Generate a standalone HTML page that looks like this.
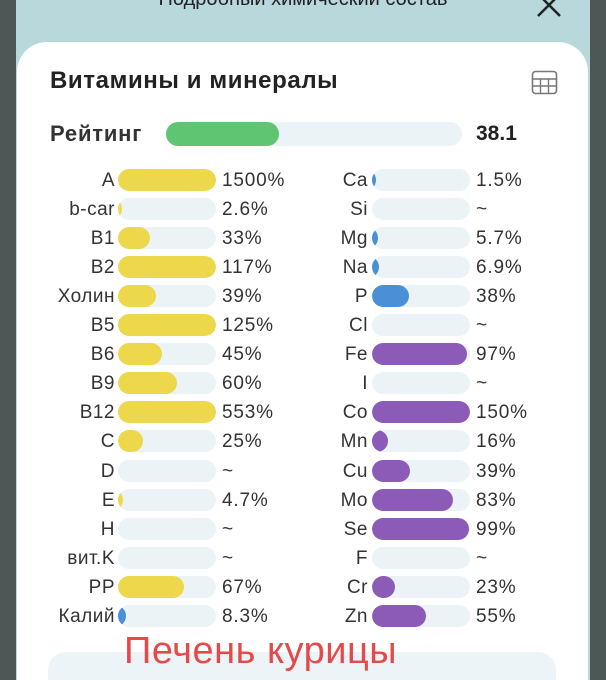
<!DOCTYPE html>
<html><head><meta charset="utf-8"><style>
html,body{margin:0;width:606px;height:680px;overflow:hidden;}
body{background:#4d5856;position:relative;font-family:"Liberation Sans","DejaVu Sans",sans-serif;}
.teal{position:absolute;left:16px;top:0;width:574px;height:680px;background:#b8d8dc;}
.ttl{position:absolute;left:0;width:606px;top:-12px;text-align:center;font-size:20px;color:#222;}
.card{position:absolute;left:17px;top:42px;width:571px;height:640px;background:#fff;border-radius:30px 30px 0 0;}
.h{position:absolute;left:50px;top:67px;font-size:24px;font-weight:bold;color:#222;letter-spacing:0.6px;}
.lbl{position:absolute;font-size:19px;color:#333;text-align:right;width:110px;letter-spacing:0.5px;}
.bar{position:absolute;width:98px;height:22px;border-radius:11px;background:#ecf3f6;overflow:hidden;}
.bar i{position:absolute;left:0;top:0;height:22px;border-radius:11px;}
.val{position:absolute;font-size:19px;color:#333;letter-spacing:0.8px;}
.y{background:#ecd84a}.b{background:#4a90d6}.p{background:#8c5bb8}
</style></head><body>
<div class="teal"></div>
<div class="ttl">Подробный химический состав</div>
<svg style="position:absolute;left:534px;top:0" width="32" height="20"><path d="M4 -6L26 16M26 -6L4 16" stroke="#222" stroke-width="2.5" fill="none"/></svg>
<div class="card"></div>
<div class="h">Витамины и минералы</div>
<svg style="position:absolute;left:531px;top:70px" width="27" height="25"><rect x="1.5" y="1.5" width="24" height="22" rx="3" fill="none" stroke="#777" stroke-width="1.6"/><path d="M1.5 9H25.5M1.5 16H25.5M9.5 9V23.5M17.5 9V23.5" stroke="#777" stroke-width="1.4"/></svg>
<div style="position:absolute;left:50px;top:121px;font-size:22px;font-weight:bold;color:#333;letter-spacing:0.8px">Рейтинг</div>
<div style="position:absolute;left:166px;top:122px;width:296px;height:24px;border-radius:12px;background:#ecf3f6"><div style="width:113px;height:24px;border-radius:12px;background:#5fc572"></div></div>
<div style="position:absolute;left:476px;top:122px;font-size:21px;font-weight:bold;color:#222">38.1</div>
<div id="rows"></div>
<script>
var L=[["A",100,"y","1500%"],["b-car",3,"y","2.6%"],["B1",33,"y","33%"],["B2",100,"y","117%"],["Холин",39,"y","39%"],["B5",100,"y","125%"],["B6",45,"y","45%"],["B9",60,"y","60%"],["B12",100,"y","553%"],["C",25,"y","25%"],["D",0,"y","~"],["E",4.7,"y","4.7%"],["H",0,"y","~"],["вит.K",0,"y","~"],["PP",67,"y","67%"],["Калий",8.3,"b","8.3%"]];
var R=[["Ca",2,"b","1.5%"],["Si",0,"b","~"],["Mg",5.7,"b","5.7%"],["Na",6.9,"b","6.9%"],["P",38,"b","38%"],["Cl",0,"b","~"],["Fe",97,"p","97%"],["I",0,"p","~"],["Co",100,"p","150%"],["Mn",16,"p","16%"],["Cu",39,"p","39%"],["Mo",83,"p","83%"],["Se",99,"p","99%"],["F",0,"p","~"],["Cr",23,"p","23%"],["Zn",55,"p","55%"]];
var h="";
function add(a,lx,bx,vx){a.forEach(function(r,i){var y=169+i*29.05;
h+='<div class="lbl" style="left:'+(lx-110)+'px;top:'+(y+1)+'px">'+r[0]+'</div>';
var w=r[1]?Math.max(4,r[1]*0.98):0;
h+='<div class="bar" style="left:'+bx+'px;top:'+y+'px">'+(w?'<i class="'+r[2]+'" style="width:'+Math.max(w,22)+'px;left:'+(w<22?w-22:0)+'px"></i>':'')+'</div>';
h+='<div class="val" style="left:'+vx+'px;top:'+(y+1)+'px">'+r[3]+'</div>';});}
add(L,115,118,222);add(R,368,372,476);
document.getElementById("rows").innerHTML=h;
</script>
<div style="position:absolute;left:48px;top:652px;width:508px;height:60px;border-radius:18px;background:#edf4f7"></div>
<div style="position:absolute;left:124px;top:630px;font-size:38px;color:#e44a4a;letter-spacing:0.5px">Печень курицы</div>
</body></html>
